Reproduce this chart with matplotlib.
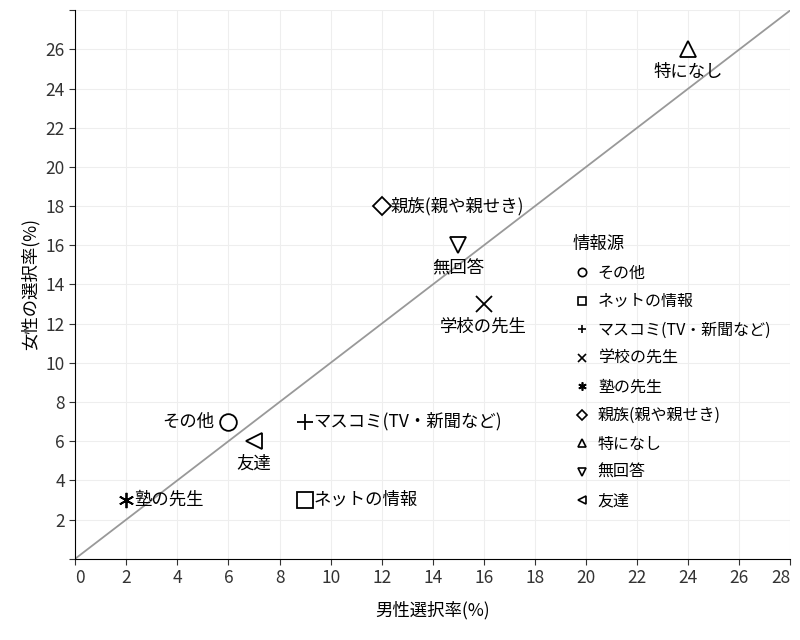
import matplotlib
matplotlib.use("Agg")
import matplotlib.pyplot as plt

plt.rcParams['font.family'] = ['Noto Sans CJK JP', 'DejaVu Sans']

# data
sources = ["その他", "ネットの情報", "マスコミ(TV・新聞など)", "学校の先生", "塾の先生",
           "親族(親や親せき)", "特になし", "無回答", "友達"]
male = [6, 9, 9, 16, 2, 12, 24, 15, 7]
female = [7, 3, 7, 13, 3, 18, 26, 16, 6]
markers = ['o', 's', '+', 'x', (6, 2, 0), 'D', '^', 'v', '<']
label_pos = ['left', 'right', 'right', 'below', 'right', 'right', 'below', 'below', 'below']

fig = plt.figure(figsize=(8, 6.4), dpi=100)
ax = fig.add_axes([0.094, 0.127, 0.894, 0.857])

ax.plot([0, 28], [0, 28], color='#999999', lw=1.3, zorder=1)

for s, x, y, m, pos in zip(sources, male, female, markers, label_pos):
    ms = 9 if m == 'D' else 12
    if m in ('+', 'x', (6, 2, 0)):
        ax.plot(x, y, marker=m, ms=12 if m == '+' else 11, color='black', mew=1.3,
                ls='none', zorder=3)
    else:
        ax.plot(x, y, marker=m, ms=ms, mfc='white', mec='black', mew=1.3, ls='none', zorder=3)
    if pos == 'left':
        ax.annotate(s, (x, y), xytext=(-10, 0), textcoords='offset points',
                    ha='right', va='center', fontsize=12.5)
    elif pos == 'right':
        ax.annotate(s, (x, y), xytext=(6, 0), textcoords='offset points',
                    ha='left', va='center', fontsize=12.5)
    else:
        ax.annotate(s, (x, y), xytext=(0, -10), textcoords='offset points',
                    ha='center', va='top', fontsize=12.5)

# legend
handles = []
for s, m in zip(sources, markers):
    if m in ('+', 'x', (6, 2, 0)):
        h, = ax.plot([], [], marker=m, ms=6, color='black', mew=1.2, ls='none')
    else:
        h, = ax.plot([], [], marker=m, ms=5 if m == 'D' else 6, mfc='white', mec='black',
                     mew=1.2, ls='none')
    handles.append(h)
leg = ax.legend(handles, sources, title="情報源", loc='upper left',
                bbox_to_anchor=(0.695, 0.59), frameon=False, fontsize=11.5,
                title_fontsize=12.5, handletextpad=0.4, labelspacing=0.72,
                handlelength=1.2, borderpad=0, borderaxespad=0)
leg._legend_box.align = 'left'

ax.set_xlim(0, 28)
ax.set_ylim(0, 28)
ax.set_xticks(range(0, 29, 2))
ax.set_yticks(range(0, 29, 2))
ax.set_yticklabels([''] + [str(v) for v in range(2, 27, 2)] + [''])
ax.grid(True, color='#eeeeee', lw=0.8)
ax.set_axisbelow(True)
for sp in ['top', 'right']:
    ax.spines[sp].set_visible(False)
ax.tick_params(labelsize=12.5, colors='#333333', length=4)
xl = ax.get_xticklabels()
xl[0].set_horizontalalignment('left')
xl[-1].set_horizontalalignment('right')
ax.set_xlabel("男性選択率(%)", fontsize=12.5, labelpad=10)
ax.set_ylabel("女性の選択率(%)", fontsize=12.5)

fig.savefig("out.png", dpi=100)
